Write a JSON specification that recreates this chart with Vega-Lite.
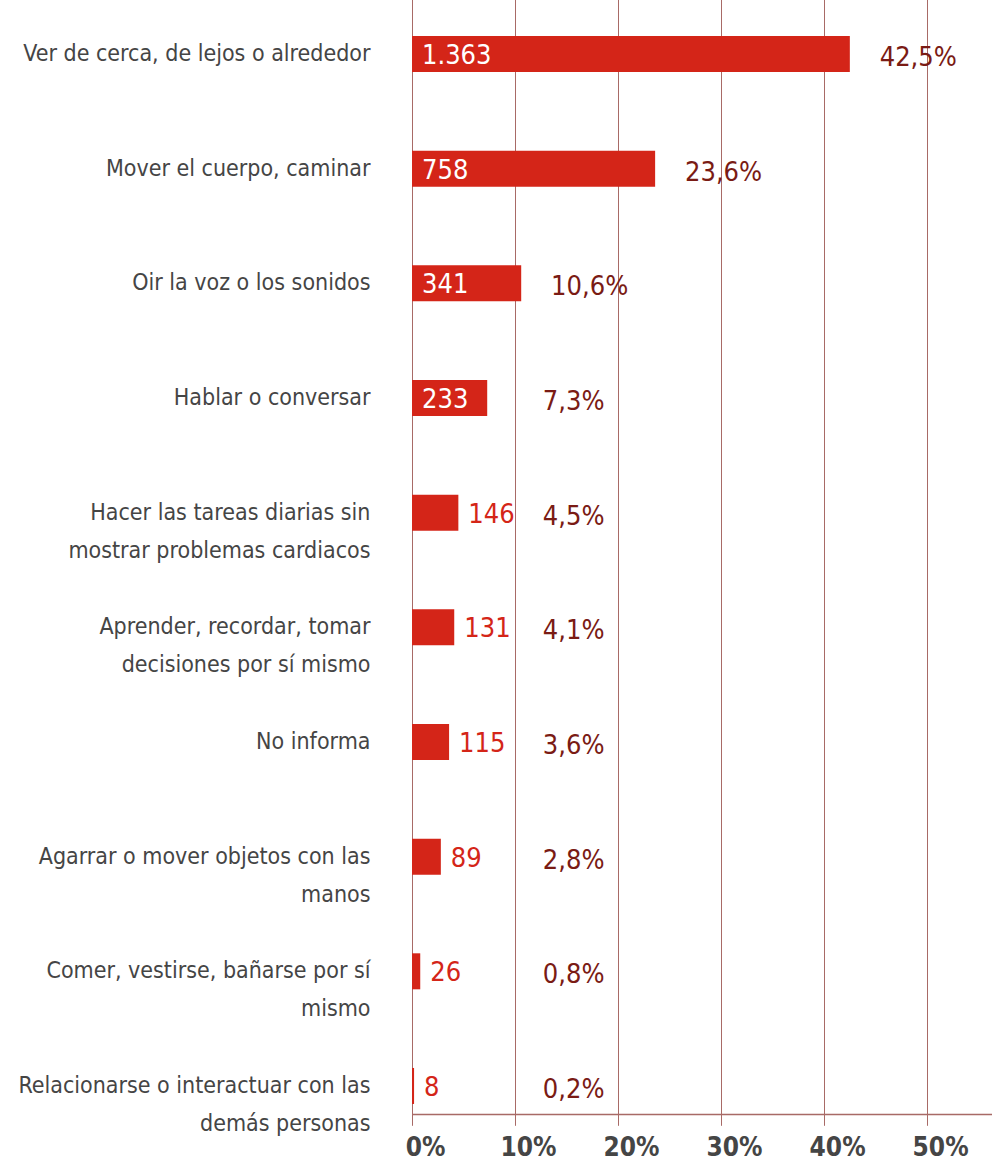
{
  "$schema": "https://vega.github.io/schema/vega-lite/v6.json",
  "autosize": {"type": "none"},
  "padding": {"left": 412, "top": 8, "right": 0, "bottom": 48},
  "width": 580,
  "height": 1106,
  "background": "white",
  "config": {
    "view": {"stroke": null},
    "locale": {"number": {"decimal": ",", "thousands": ".", "grouping": [3], "currency": ["", ""]}},
    "font": "'DejaVu Sans Condensed', 'Liberation Sans Narrow', Roboto, sans-serif"
  },
  "data": {
    "values": [
      {"categoria": "Ver de cerca, de lejos o alrededor", "casos": 1363, "pct": 0.425},
      {"categoria": "Mover el cuerpo, caminar", "casos": 758, "pct": 0.236},
      {"categoria": "Oir la voz o los sonidos", "casos": 341, "pct": 0.106},
      {"categoria": "Hablar o conversar", "casos": 233, "pct": 0.073},
      {"categoria": "Hacer las tareas diarias sin\nmostrar problemas cardiacos", "casos": 146, "pct": 0.045},
      {"categoria": "Aprender, recordar, tomar\ndecisiones por sí mismo", "casos": 131, "pct": 0.041},
      {"categoria": "No informa", "casos": 115, "pct": 0.036},
      {"categoria": "Agarrar o mover objetos con las\nmanos ", "casos": 89, "pct": 0.028},
      {"categoria": "Comer, vestirse, bañarse por sí\nmismo", "casos": 26, "pct": 0.008},
      {"categoria": "Relacionarse o interactuar con las\ndemás personas", "casos": 8, "pct": 0.002}
    ]
  },
  "transform": [
    {"calculate": "max(datum.pct + 0.029, 0.127)", "as": "pos_pct"}
  ],
  "encoding": {
    "y": {
      "field": "categoria",
      "type": "nominal",
      "sort": null,
      "scale": {"range": [-11.3, 1135.3], "paddingInner": 0.686, "paddingOuter": 0.343},
      "axis": {
        "title": null,
        "domain": false,
        "ticks": false,
        "labelPadding": 42,
        "labelFont": "'DejaVu Sans Condensed', 'Liberation Sans Narrow', Roboto, sans-serif",
        "labelFontSize": 23,
        "labelColor": "#454545",
        "labelLineHeight": 38,
        "labelLimit": 420,
        "labelExpr": "split(datum.label, '\\n')"
      }
    }
  },
  "layer": [
    {
      "mark": {"type": "bar", "color": "#d42518"},
      "encoding": {
        "x": {
          "field": "pct",
          "type": "quantitative",
          "scale": {"domain": [0, 0.563], "nice": false, "zero": true},
          "axis": {
            "title": null,
            "values": [0, 0.1, 0.2, 0.3, 0.4, 0.5],
            "format": ".0%",
            "grid": true,
            "gridColor": "#a86a66",
            "gridWidth": 1,
            "domainColor": "#a86a66",
            "domainWidth": 1.5,
            "ticks": false,
            "labelFont": "'DejaVu Sans Condensed', 'Liberation Sans Narrow', Roboto, sans-serif",
            "labelFontSize": 26,
            "labelFontWeight": "bold",
            "labelColor": "#454545",
            "labelPadding": 20,
            "labelOffset": 13,
            "labelFlush": false,
            "labelAlign": "center",
            "labelBaseline": "top"
          }
        }
      }
    },
    {
      "transform": [{"filter": "datum.casos >= 200"}],
      "mark": {"type": "text", "align": "left", "baseline": "middle", "dx": 10, "dy": 2, "fontSize": 27, "color": "white"},
      "encoding": {
        "x": {"datum": 0, "type": "quantitative"},
        "text": {"field": "casos", "type": "quantitative", "format": ",d"}
      }
    },
    {
      "transform": [{"filter": "datum.casos < 200"}],
      "mark": {"type": "text", "align": "left", "baseline": "middle", "dx": 10, "dy": 2, "fontSize": 27, "color": "#d42518"},
      "encoding": {
        "x": {"field": "pct", "type": "quantitative"},
        "text": {"field": "casos", "type": "quantitative", "format": ",d"}
      }
    },
    {
      "mark": {"type": "text", "align": "left", "baseline": "middle", "dy": 4, "fontSize": 27, "color": "#7a1b14"},
      "encoding": {
        "x": {"field": "pos_pct", "type": "quantitative"},
        "text": {"field": "pct", "type": "quantitative", "format": ".1%"}
      }
    }
  ]
}
